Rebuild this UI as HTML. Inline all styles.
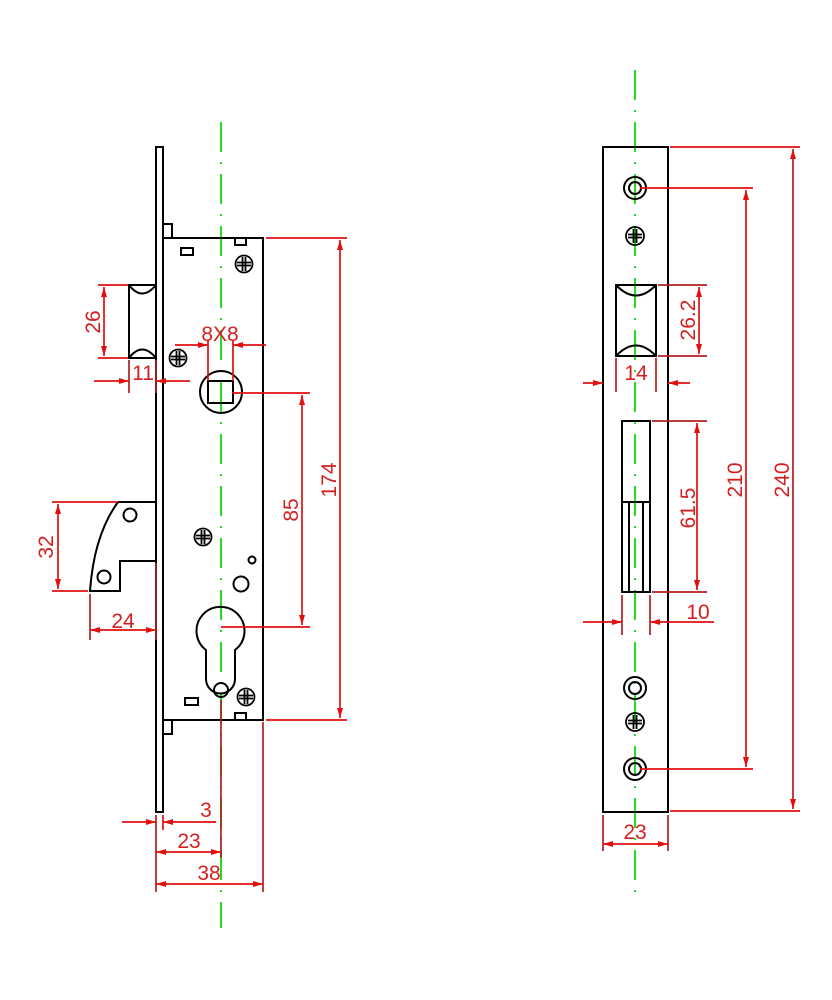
<!DOCTYPE html>
<html><head><meta charset="utf-8"><style>
html,body{margin:0;padding:0;background:#fff}
svg{display:block}
text{font-family:"Liberation Sans",sans-serif;fill:#d42020;font-size:21px}
</style></head><body>
<svg width="832" height="1000" viewBox="0 0 832 1000" xmlns="http://www.w3.org/2000/svg">
<defs>
<marker id="a" viewBox="0 0 10 6" refX="10" refY="3" markerWidth="11" markerHeight="6" markerUnits="userSpaceOnUse" orient="auto-start-reverse"><path d="M0,0L10,3L0,6z" fill="#e01010"/></marker>
</defs>
<rect width="832" height="1000" fill="#fff"/>
<g stroke="#22dd22" stroke-width="2" fill="none" stroke-dasharray="30,10,2,10">
<line x1="221" y1="122" x2="221" y2="928"/>
<line x1="635" y1="70" x2="635" y2="895"/>
</g>
<g stroke="#000" stroke-width="2" fill="none">
<rect x="156" y="147" width="7" height="665"/>
<rect x="163" y="238" width="100" height="482"/>
<rect x="163" y="224" width="9" height="14"/>
<rect x="163" y="720" width="9" height="14"/>
<rect x="181" y="248" width="12" height="7"/>
<rect x="235" y="238" width="11" height="7"/>
<rect x="185" y="698" width="13" height="7"/>
<rect x="235" y="713" width="11" height="7"/>
<path d="M129,285 H156 V358 H129 Z"/>
<path d="M129,285 Q142,302 156,285"/>
<path d="M129,358 Q142,341 156,358"/>
<circle cx="221" cy="392" r="21"/>
<rect x="208" y="381" width="25" height="22"/>
<path d="M118,502 H156 M156,561 H120 V591 H90 Q94,535 118,502"/>
<circle cx="130" cy="515" r="6.5"/>
<circle cx="104" cy="577" r="6.5"/>
<circle cx="252" cy="560" r="3.5"/>
<circle cx="241" cy="584" r="7.5"/>
<path d="M206,650 A24,24 0 1 1 235,650 V679 A14.5,14.5 0 0 1 206,679 Z"/>
<circle cx="221" cy="690" r="7"/>
</g>
<g stroke="#000" stroke-width="1.8" fill="none">
<g transform="translate(178,358)"><circle r="8.5"/><path d="M-7,-1.5H7M-7,1.5H7M-1.5,-7V7M1.5,-7V7"/></g>
<g transform="translate(244,264)"><circle r="8.5"/><path d="M-7,-1.5H7M-7,1.5H7M-1.5,-7V7M1.5,-7V7"/></g>
<g transform="translate(203,537)"><circle r="8.5"/><path d="M-7,-1.5H7M-7,1.5H7M-1.5,-7V7M1.5,-7V7"/></g>
<g transform="translate(246,697)"><circle r="8.5"/><path d="M-7,-1.5H7M-7,1.5H7M-1.5,-7V7M1.5,-7V7"/></g>
<g transform="translate(635,236)"><circle r="9"/><path d="M-7,-1.5H7M-7,1.5H7M-1.5,-7V7M1.5,-7V7"/></g>
<g transform="translate(635,722)"><circle r="9"/><path d="M-7,-1.5H7M-7,1.5H7M-1.5,-7V7M1.5,-7V7"/></g>
</g>
<g stroke="#000" stroke-width="2" fill="none">
<rect x="603" y="147" width="65" height="665"/>
<circle cx="635" cy="188" r="11"/><circle cx="635" cy="188" r="6"/>
<circle cx="635" cy="688" r="11"/><circle cx="635" cy="688" r="6"/>
<circle cx="635" cy="769" r="11"/><circle cx="635" cy="769" r="6"/>
<path d="M616,285 H656 V356 H616 Z"/>
<path d="M616,285 Q636,306 656,285"/>
<path d="M616,356 Q636,335 656,356"/>
<rect x="622" y="421" width="28" height="171"/>
<path d="M622,502 H650 M629,502 V592 M643,502 V592"/>
</g>
<g stroke="#e01010" stroke-width="1.7" fill="none">
<path d="M98,285H128M98,358H128"/>
<line x1="104" y1="287" x2="104" y2="356" marker-start="url(#a)" marker-end="url(#a)"/>
<path d="M129,360V393M156,360V393" stroke="#b02020"/>
<line x1="94" y1="381" x2="129" y2="381" marker-end="url(#a)"/>
<line x1="190" y1="381" x2="156" y2="381" marker-end="url(#a)"/>
<path d="M208,340V381M233,340V381"/>
<line x1="175" y1="345" x2="208" y2="345" marker-end="url(#a)"/>
<line x1="266" y1="345" x2="233" y2="345" marker-end="url(#a)"/>
<path d="M232,393H310M221,627H310"/>
<line x1="302" y1="395" x2="302" y2="625" marker-start="url(#a)" marker-end="url(#a)"/>
<path d="M266,238H347M266,720H347"/>
<line x1="340" y1="240" x2="340" y2="718" marker-start="url(#a)" marker-end="url(#a)"/>
<path d="M52,502H118M52,591H88"/>
<line x1="58" y1="504" x2="58" y2="589" marker-start="url(#a)" marker-end="url(#a)"/>
<path d="M90,594V640" stroke="#b02020"/>
<path d="M156,563V640" stroke="#b02020"/>
<line x1="90" y1="630" x2="156" y2="630" marker-start="url(#a)" marker-end="url(#a)"/>
<path d="M156,815V892M263,722V892M221,700V858" stroke="#b02020"/>
<path d="M163,815V830"/>
<line x1="122" y1="822" x2="156" y2="822" marker-end="url(#a)"/>
<line x1="216" y1="822" x2="163" y2="822" marker-end="url(#a)"/>
<line x1="156" y1="852" x2="221" y2="852" marker-start="url(#a)" marker-end="url(#a)"/>
<line x1="156" y1="884" x2="263" y2="884" marker-start="url(#a)" marker-end="url(#a)"/>
<path d="M658,285H707M658,356H707" stroke="#b02020"/>
<line x1="699" y1="287" x2="699" y2="354" marker-start="url(#a)" marker-end="url(#a)"/>
<path d="M616,358V392M656,358V392" stroke="#b02020"/>
<line x1="583" y1="383" x2="603" y2="383" marker-end="url(#a)"/>
<line x1="690" y1="383" x2="668" y2="383" marker-end="url(#a)"/>
<path d="M652,421H707M652,592H707" stroke="#b02020"/>
<line x1="697" y1="423" x2="697" y2="590" marker-start="url(#a)" marker-end="url(#a)"/>
<path d="M622,595V635M650,595V635" stroke="#b02020"/>
<line x1="583" y1="622" x2="622" y2="622" marker-end="url(#a)"/>
<line x1="714" y1="622" x2="650" y2="622" marker-end="url(#a)"/>
<path d="M640,188H753M640,769H753"/>
<line x1="746" y1="190" x2="746" y2="767" marker-start="url(#a)" marker-end="url(#a)"/>
<path d="M670,147H800M670,811H800"/>
<line x1="793" y1="149" x2="793" y2="809" marker-start="url(#a)" marker-end="url(#a)" stroke="#b02020"/>
<path d="M603,815V851M668,815V851" stroke="#b02020"/>
<line x1="603" y1="844" x2="668" y2="844" marker-start="url(#a)" marker-end="url(#a)"/>
</g>
<text transform="translate(100,322) rotate(-90)" text-anchor="middle">26</text>
<text x="143" y="380" text-anchor="middle">11</text>
<text x="220" y="341" text-anchor="middle">8X8</text>
<text transform="translate(298,510) rotate(-90)" text-anchor="middle">85</text>
<text transform="translate(336,480) rotate(-90)" text-anchor="middle">174</text>
<text transform="translate(53,547) rotate(-90)" text-anchor="middle">32</text>
<text x="123" y="628" text-anchor="middle">24</text>
<text x="206" y="817" text-anchor="middle">3</text>
<text x="189" y="848" text-anchor="middle">23</text>
<text x="209" y="880" text-anchor="middle">38</text>
<text transform="translate(695,320) rotate(-90)" text-anchor="middle">26.2</text>
<text x="636" y="380" text-anchor="middle">14</text>
<text transform="translate(695,508) rotate(-90)" text-anchor="middle">61.5</text>
<text x="698" y="619" text-anchor="middle">10</text>
<text transform="translate(742,480) rotate(-90)" text-anchor="middle">210</text>
<text transform="translate(789,480) rotate(-90)" text-anchor="middle">240</text>
<text x="635" y="839" text-anchor="middle">23</text>
</svg>
</body></html>
